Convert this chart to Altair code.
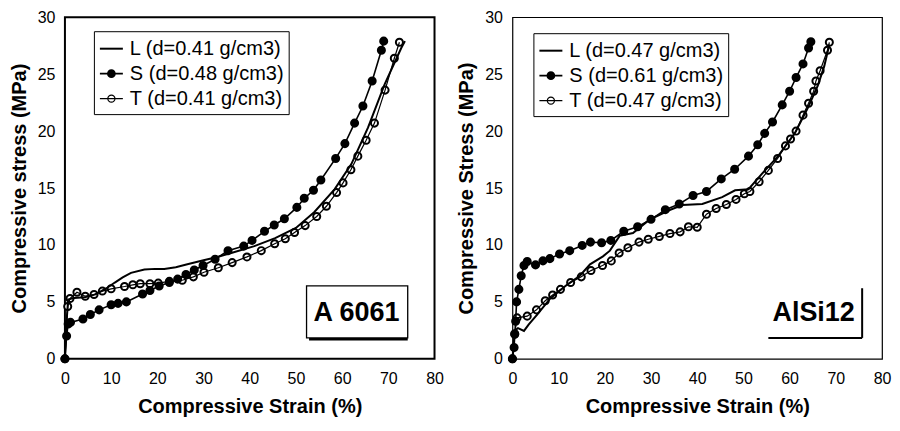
import altair as alt
import pandas as pd

# ---------------- data ----------------
strain_ticks = [0, 10, 20, 30, 40, 50, 60, 70, 80]
stress_ticks = [0, 5, 10, 15, 20, 25, 30]

a_labels = ["L (d=0.41 g/cm3)", "S (d=0.48 g/cm3)", "T (d=0.41 g/cm3)"]
b_labels = ["L (d=0.47 g/cm3)", "S (d=0.61 g/cm3)", "T (d=0.47 g/cm3)"]

# Panel A 6061
a_L_x = [0, 0.3, 0.7, 2, 4.3, 6.6, 9, 10.8, 12.5, 14.3, 17.2, 19.5, 21.5, 24, 26.5, 30, 33, 36, 41,
         45.5, 50, 54, 58.4, 62, 65.6, 69.2, 72.8, 73.6]
a_L_y = [0, 3.0, 5.2, 5.35, 5.4, 5.66, 6.2, 6.7, 7.15, 7.55, 7.85, 7.9, 7.9, 8.05, 8.3, 8.65, 8.95,
         9.3, 9.9, 10.6, 11.5, 12.9, 14.9, 17.1, 20.3, 24.1, 27.3, 27.9]
a_S_x = [0, 0.36, 0.7, 1.2, 3.9, 5.5, 7.4, 10.0, 11.5, 13.3, 16.8, 18.4, 20.4, 22.6, 24.4, 26.2, 28.0,
         29.9, 32.5, 35.3, 38.7, 40.5, 43.2, 45.3, 47.5, 50.2, 51.8, 53.8, 55.4, 58.6, 60.6, 62.7,
         64.5, 66.5, 68.5, 69.0]
a_S_y = [0, 2.0, 3.06, 3.2, 3.5, 3.9, 4.3, 4.75, 4.87, 5.0, 5.7, 6.0, 6.4, 6.7, 7.0, 7.4, 7.8, 8.2,
         8.75, 9.5, 9.9, 10.4, 11.2, 11.75, 12.3, 13.3, 14.1, 14.8, 15.7, 17.6, 18.9, 20.7, 22.2,
         24.4, 27.1, 27.9]
a_T_x = [0, 0.6, 1.1, 2.6, 4.4, 6.3, 8.1, 10.0, 12.9, 14.7, 16.3, 18.4, 20.2, 22.6, 25.4, 27.8, 30.1,
         33.2, 36.2, 39.4, 42.5, 45.4, 47.7, 49.7, 52.0, 54.5, 56.6, 58.8, 60.2, 61.9, 63.4, 65.2,
         67.0, 69.3, 71.3, 72.4]
a_T_y = [0, 4.6, 5.3, 5.85, 5.5, 5.65, 5.95, 6.15, 6.35, 6.5, 6.6, 6.6, 6.65, 6.8, 6.9, 7.2, 7.6,
         8.0, 8.45, 8.95, 9.5, 10.1, 10.55, 11.1, 11.7, 12.5, 13.4, 14.6, 15.45, 16.6, 17.8, 19.2,
         20.7, 23.6, 26.4, 27.8]

# Panel AlSi12
b_L_x = [0, 0.3, 0.6, 1.2, 2.5, 3.5, 5.4, 8.2, 11.8, 14.6, 16.8, 19.6, 21.1, 23.2, 26.1, 29.6, 33.9,
         36.8, 41.1, 45.4, 48.2, 51.1, 53.9, 57.5, 61.1, 63.9, 66.1, 67.5, 68.6]
b_L_y = [0, 1.5, 2.5, 2.7, 2.45, 3.0, 3.9, 5.3, 6.5, 7.3, 8.3, 9.0, 9.5, 10.8, 11.05, 12.2, 13.05,
         13.5, 13.6, 14.2, 14.8, 14.9, 16.2, 17.8, 19.8, 22.0, 24.0, 25.7, 27.6]
b_S_x = [0, 0.36, 0.5, 0.7, 0.9, 1.4, 1.9, 2.5, 3.2, 5.0, 6.6, 8.1, 10.2, 12.4, 15.1, 16.9, 19.3,
         21.3, 24.1, 27.1, 30.0, 33.1, 36.1, 39.1, 42.0, 45.2, 48.1, 51.1, 53.1, 54.6, 56.3, 58.4,
         60.0, 61.4, 62.9, 64.1, 64.6]
b_S_y = [0, 1.0, 2.15, 3.3, 5.0, 6.1, 7.3, 8.2, 8.55, 8.25, 8.6, 8.8, 9.2, 9.5, 9.96, 10.25, 10.2,
         10.4, 11.2, 11.6, 12.25, 13.1, 13.6, 14.35, 14.7, 15.8, 16.65, 17.8, 18.8, 19.8, 20.8,
         22.3, 23.5, 24.7, 25.9, 27.3, 27.85]
b_T_x = [0, 0.5, 1.0, 3.2, 5.2, 7.1, 8.7, 10.4, 12.6, 14.9, 17.0, 19.5, 21.4, 23.1, 25.0, 27.4, 29.4,
         31.8, 34.1, 36.3, 38.1, 40.0, 42.0, 44.1, 46.3, 48.4, 50.2, 51.4, 53.4, 55.4, 57.4, 59.1,
         60.2, 61.4, 62.9, 64.1, 65.2, 65.7, 66.6, 68.2, 68.6]
b_T_y = [0, 2.2, 3.6, 3.75, 4.3, 5.1, 5.6, 6.1, 6.7, 7.2, 7.75, 8.2, 8.6, 9.3, 9.75, 10.25, 10.5,
         10.75, 11.0, 11.15, 11.6, 11.55, 12.7, 13.2, 13.55, 14.0, 14.5, 14.7, 15.55, 16.55, 17.6,
         18.7, 19.3, 20.0, 21.4, 22.45, 23.5, 24.4, 25.3, 27.1, 27.8]

FONT = "Liberation Sans"
LINE_PATH = "M-1,0H1"
DOT_PATH = "M-1,0H1M-0.31,0A0.31,0.31 0 1,0 0.31,0A0.31,0.31 0 1,0 -0.31,0Z"

XS = alt.Scale(domain=[0, 80], nice=False)
YS = alt.Scale(domain=[0, 30], nice=False)
W, H = 370, 342


def series_df(labels, xs_list, ys_list):
    rows = []
    for lab, xs, ys in zip(labels, xs_list, ys_list):
        for i, (x, y) in enumerate(zip(xs, ys)):
            rows.append({"series": lab, "strain": x, "stress": y, "order": i})
    return pd.DataFrame(rows)


def panel(labels, xs_list, ys_list, ytitle, legend_x, legend_y):
    df = series_df(labels, xs_list, ys_list)
    # open markers drawn first so filled markers sit on top
    pts_df = series_df([labels[2], labels[1]], [xs_list[2], xs_list[1]], [ys_list[2], ys_list[1]])
    xenc = alt.X("strain:Q", scale=XS,
                 axis=alt.Axis(values=strain_ticks, title="Compressive Strain (%)", labelPadding=12,
                               titlePadding=10, labelFlush=False))
    yenc = alt.Y("stress:Q", scale=YS,
                 axis=alt.Axis(values=stress_ticks, title=ytitle, labelPadding=10, titlePadding=8,
                               labelFlush=False))
    first = "substring(datum.value,0,1)"
    legend = alt.Legend(
        orient="none", legendX=legend_x, legendY=legend_y, title=None,
        symbolType={"expr": f"{first} === 'L' ? '{LINE_PATH}' : '{DOT_PATH}'"},
        symbolSize=529, symbolStrokeWidth=1.5, symbolStrokeColor="black",
        labelFont=FONT, labelFontSize=20,
        labelColor="black", labelLimit=0, labelOffset=6, padding=5, rowPadding=2,
        strokeColor="black", fillColor="white",
    )
    pts = alt.Chart(pts_df).mark_point(filled=False, size=50, stroke="black", opacity=1).encode(
        x=xenc, y=yenc,
        fill=alt.Fill("series:N", scale=alt.Scale(domain=labels, range=["transparent", "black", "white"]),
                      legend=legend),
    )
    lines = alt.Chart(df).mark_line(color="black").encode(
        x=xenc, y=yenc, order="order:Q", detail="series:N",
        strokeWidth=alt.StrokeWidth("series:N", scale=alt.Scale(domain=labels, range=[2.0, 1.2, 1.2]),
                                    legend=None),
    )
    return pts, lines


a_pts, a_lines = panel(a_labels, [a_L_x, a_S_x, a_T_x], [a_L_y, a_S_y, a_T_y],
                       "Compressive stress (MPa)", 29, 14)
b_pts, b_lines = panel(b_labels, [b_L_x, b_S_x, b_T_x], [b_L_y, b_S_y, b_T_y],
                       "Compressive Stress (MPa)", 21, 16)

# annotations
a_box = pd.DataFrame({"x": [52.3], "x2": [74.2], "y": [1.84], "y2": [6.4], "t": ["A 6061"],
                      "tx": [63.1], "ty": [4.06]})
shadow = alt.Chart(a_box).mark_rect(fill="black", xOffset=2.5, yOffset=2.5).encode(
    x=alt.X("x:Q", scale=XS), x2="x2:Q", y=alt.Y("y:Q", scale=YS), y2="y2:Q")
box = alt.Chart(a_box).mark_rect(fill="white", stroke="black", strokeWidth=1.3).encode(
    x=alt.X("x:Q", scale=XS), x2="x2:Q", y=alt.Y("y:Q", scale=YS), y2="y2:Q")
a_text = alt.Chart(a_box).mark_text(font=FONT, fontSize=27, fontWeight="bold", color="black").encode(
    x=alt.X("tx:Q", scale=XS), y=alt.Y("ty:Q", scale=YS), text="t:N")

b_ann = pd.DataFrame({"t": ["AlSi12"], "tx": [65.2], "ty": [4.06], "vx": [75.7], "hx": [55.4],
                      "y": [1.84], "y2": [6.2]})
b_text = alt.Chart(b_ann).mark_text(font=FONT, fontSize=27, fontWeight="bold", color="black").encode(
    x=alt.X("tx:Q", scale=XS), y=alt.Y("ty:Q", scale=YS), text="t:N")
b_v = alt.Chart(b_ann).mark_rule(color="black", strokeWidth=2).encode(
    x=alt.X("vx:Q", scale=XS), y=alt.Y("y:Q", scale=YS), y2="y2:Q")
b_h = alt.Chart(b_ann).mark_rule(color="black", strokeWidth=2).encode(
    x=alt.X("hx:Q", scale=XS), x2="vx:Q", y=alt.Y("y:Q", scale=YS))

left_full = alt.layer(a_pts, a_lines, shadow, box, a_text).properties(
    width=W, height=H, view=alt.ViewConfig(stroke="black", strokeWidth=2))
right_full = alt.layer(b_pts, b_lines, b_text, b_v, b_h).properties(
    width=W, height=H, view=alt.ViewConfig(stroke="black", strokeWidth=1.2))

chart = alt.hconcat(left_full, right_full, spacing=11).resolve_scale(
    fill="independent", strokeWidth="independent"
).resolve_legend(fill="independent").properties(
    padding={"left": 0, "top": 0, "right": 0, "bottom": 0},
    background="white",
).configure_axis(
    labelFont=FONT, labelFontSize=16, labelColor="black", titleFont=FONT, titleFontSize=20,
    titleFontWeight="bold", titleColor="black", ticks=False, domain=False, grid=False,
)

chart.save("out.html", embed_options={"renderer": "svg", "actions": False})
